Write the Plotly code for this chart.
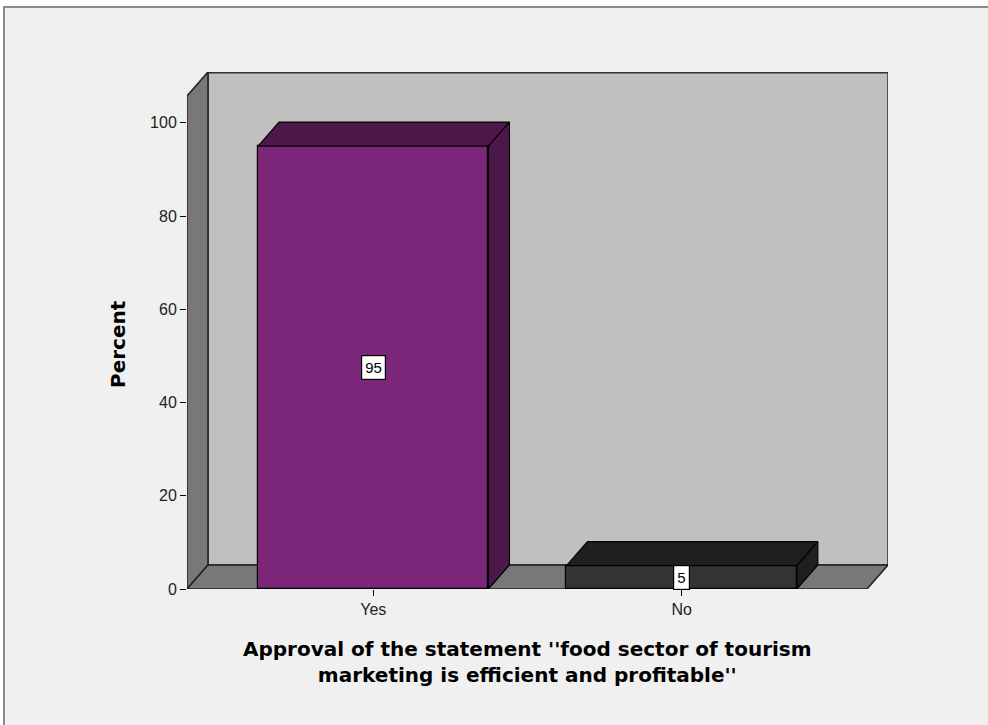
import plotly.graph_objects as go

categories = ["Yes", "No"]
percents = [95, 5]
labels = ["95", "5"]
front_colors = ["#7B2679", "#333333"]
shade_colors = ["#4E1749", "#1F1F1F"]
y_ticks = [0, 20, 40, 60, 80, 100]

# geometry (data units)
bar_w = 0.747
dx, dy = 0.068, 5.15
x_min, x_max = -0.604, 1.601
y_top = 110.9

xs = list(range(len(categories)))

fig = go.Figure()

# front faces of bars
fig.add_trace(go.Bar(
    x=xs, y=percents, width=bar_w,
    marker=dict(color=front_colors, line=dict(color="#000000", width=1.2)),
    hoverinfo="skip", showlegend=False,
))

# top and side faces
for xi, v, c in zip(xs, percents, shade_colors):
    l, r = xi - bar_w / 2, xi + bar_w / 2
    fig.add_trace(go.Scatter(
        x=[l, r, r + dx, l + dx, l], y=[v, v, v + dy, v + dy, v],
        fill="toself", fillcolor=c, mode="lines",
        line=dict(color="#000000", width=1.2), hoverinfo="skip", showlegend=False))
    fig.add_trace(go.Scatter(
        x=[r, r, r + dx, r + dx, r], y=[0, v, v + dy, dy, 0],
        fill="toself", fillcolor=c, mode="lines",
        line=dict(color="#000000", width=1.2), hoverinfo="skip", showlegend=False))

def path(pts):
    return "M " + " L ".join(f"{a},{b}" for a, b in pts) + " Z"

shapes = [
    # outer frame
    dict(type="rect", xref="paper", yref="paper",
         x0=(4 - 187) / 701, x1=(1000 - 187) / 701,
         y0=-(740 - 589) / 517, y1=(589 - 7) / 517,
         fillcolor="#F0F0F0", line=dict(color="#8A8A8A", width=2), layer="below"),
    # back wall
    dict(type="rect", xref="x", yref="y", x0=x_min + dx, x1=x_max + dx, y0=dy, y1=y_top,
         fillcolor="#C0C0C0", line=dict(color="#303030", width=1.5), layer="below"),
    # top edge of back wall (thicker)
    dict(type="line", xref="x", yref="y", x0=x_min + dx, x1=x_max + dx, y0=y_top, y1=y_top,
         line=dict(color="#303030", width=3), layer="below"),
    # side wall
    dict(type="path", xref="x", yref="y",
         path=path([(x_min, 0), (x_min, y_top - dy), (x_min + dx, y_top), (x_min + dx, dy)]),
         fillcolor="#787878", line=dict(color="#202020", width=1.5), layer="below"),
    # floor
    dict(type="path", xref="x", yref="y",
         path=path([(x_min, 0), (x_max, 0), (x_max + dx, dy), (x_min + dx, dy)]),
         fillcolor="#787878", line=dict(color="#202020", width=1.5), layer="below"),
]

annotations = []
for xi, v, t in zip(xs, percents, labels):
    annotations.append(dict(
        x=xi, y=v / 2, xref="x", yref="y", text=t, showarrow=False,
        xanchor="center", yanchor="middle",
        font=dict(family="Liberation Sans, Arial, sans-serif", size=15, color="#000000"),
        bgcolor="#FFFFFF", bordercolor="#000000", borderwidth=1.2, borderpad=3))

title_font = dict(family="DejaVu Sans, sans-serif", size=20, color="#000000", weight="bold")
annotations.append(dict(
    x=(x_min + x_max) / 2, xref="x", y=-(662 - 589) / 517, yref="paper",
    text="Approval of the statement ''food sector of tourism<br>marketing is efficient and profitable''",
    showarrow=False, xanchor="center", yanchor="middle", align="center", font=title_font))
annotations.append(dict(
    x=(118 - 187) / 701, xref="paper", y=(589 - 344) / 517, yref="paper",
    text="Percent", textangle=-90, showarrow=False, xanchor="center", yanchor="middle",
    font=title_font))

fig.update_layout(
    width=988, height=725,
    margin=dict(l=187, r=100, t=72, b=136),
    paper_bgcolor="#FFFFFF", plot_bgcolor="rgba(0,0,0,0)",
    shapes=shapes, annotations=annotations, showlegend=False, bargap=0,
    font=dict(family="Liberation Sans, Arial, sans-serif", size=16, color="#222222"),
)
fig.update_xaxes(range=[x_min, x_max + dx], tickvals=xs, ticktext=categories,
                 ticks="outside", ticklen=6, tickwidth=1.2, tickcolor="#000000",
                 showgrid=False, zeroline=False, showline=False, fixedrange=True)
fig.update_yaxes(range=[0, y_top], tickvals=y_ticks, ticks="outside", ticklen=6,
                 tickwidth=1.2, tickcolor="#000000", showgrid=False, zeroline=False,
                 showline=False, fixedrange=True)

fig.write_html("out.html", config={"displayModeBar": False},
               post_script="document.body.style.margin='0px';")
